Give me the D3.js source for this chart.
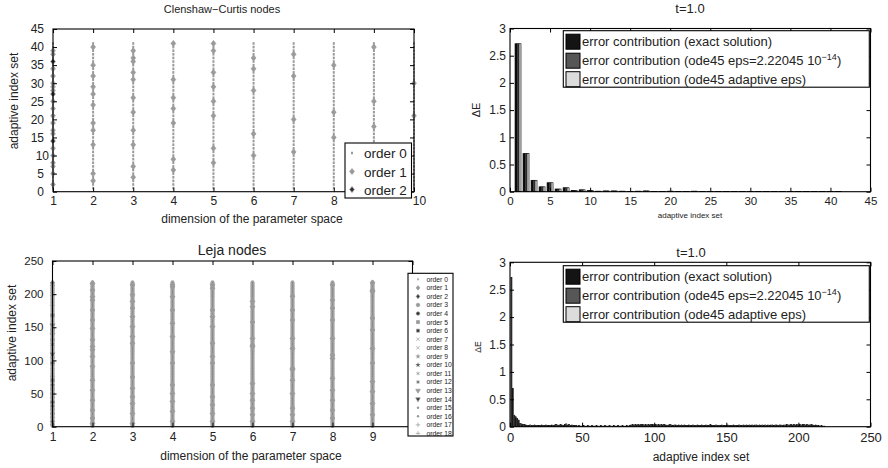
<!DOCTYPE html>
<html><head><meta charset="utf-8">
<script src="https://cdn.jsdelivr.net/npm/d3@7"></script>
<style>
body{margin:0;background:#fff}
svg{display:block}
text{font-family:"Liberation Sans",Arial,Helvetica,sans-serif;fill:#222}
</style>
</head><body>
<svg id="c" width="888" height="468"></svg>
<script>
// ---------------- DATA ----------------
// Clenshaw-Curtis nodes (top left)
const ccDimensions = [1,2,3,4,5,6,7,8,9,10];
const ccIndexCount = 41;
const ccOrder1ByDim = [
  [2,5,7,8,10,12,16,17,19,21,23,25,28,29,30,32,34,38,39],
  [3,5,13,17,19,24,27,29,32,35,40],
  [4,7,13,17,22,26,31,33,36,37,39],
  [6,9,19,23,26,31,41],
  [8,12,21,25,29,33,39,41],
  [10,16,28,34,37],
  [11,20,32,38],
  [15,22,35],
  [18,25,40],
  [21,30]
];
const ccOrder2ByDim = [[14,27,36],[],[],[],[],[],[],[],[],[]];
const ccLegendLabels = ["order 0","order 1","order 2"];

// Leja nodes (bottom left)
const lejaDimensions = [1,2,3,4,5,6,7,8,9];
const lejaIndexCount = 218;
const lejaDim1Idx   = [3,8,14,20,26,31,37,44,50,57,63,70,76,83,90,96,103,110,117,124,131,139,146,153,160,168,175,183,190,198,205,212,217];
const lejaDim1Order = [1,2,1,3,1,2,4,1,3,5,2,6,1,7,8,4,9,10,11,12,3,13,5,14,15,6,16,17,7,18,8,9,2];
const lejaOrder1ByDim = [
  [],
  [216,206,196,191,176,161,148,131,121,116,106,91,70,55,40,25,13,5],
  [214,199,189,179,166,151,136,126,96,75,58,45,35,20,5],
  [214,211,196,176,156,136,113,96,63,50,38,23,8],
  [214,209,176,166,151,126,106,96,63,45,33,20,8],
  [189,181,158,133,123,121,65,50,40,28,18,8],
  [197,176,161,133,118,88,86,70,50,28,18,8],
  [214,191,179,161,133,108,103,73,55,40,25,13],
  [217,206,204,164,146,118,96,68,53,35,18]
];
const lejaLegendLabels = ["order 0","order 1","order 2","order 3","order 4","order 5","order 6","order 7","order 8","order 9","order 10","order 11","order 12","order 13","order 14","order 15","order 16","order 17","order 18"];

// Error contributions, Clenshaw-Curtis (top right)
const ccErrExact = [2.72,0.70,0.21,0.09,0.165,0.05,0.073,0.025,0.035,0.02,0.01,0.015,0.015,0.01,0.005,0.01,0.015,0.005,0.005,0.01,0.003,0.003,0.01,0.004,0.004,0.003,0.003,0.004,0.003,0.003,0.003,0.003,0.004,0.003,0.003,0.003,0.002,0.003,0.003,0.002,0.002];
const ccErrOde45 = [2.72,0.70,0.21,0.09,0.165,0.05,0.073,0.025,0.035,0.02,0.01,0.015,0.015,0.01,0.005,0.01,0.015,0.005,0.005,0.01,0.003,0.003,0.01,0.004,0.004,0.003,0.003,0.004,0.003,0.003,0.003,0.003,0.004,0.003,0.003,0.003,0.002,0.003,0.003,0.002,0.002];
const ccErrAdaptive = [2.72,0.70,0.21,0.09,0.165,0.05,0.073,0.025,0.035,0.02,0.01,0.015,0.015,0.01,0.005,0.01,0.015,0.005,0.005,0.01,0.003,0.003,0.01,0.004,0.004,0.003,0.003,0.004,0.003,0.003,0.003,0.003,0.004,0.003,0.003,0.003,0.002,0.003,0.003,0.002,0.002];

// Error contributions, Leja (bottom right) -- the three series coincide at this resolution
const lejaErrExact = [
 2.72,0.70,0.21,0.18,0.15,0.12,0.06,0.05,0.04,0.04,
 0.03,0.02,0.02,0.03,0.02,0.02,0.03,0.02,0.02,0.02,
 0.02,0.03,0.02,0.02,0.03,0.02,0.02,0.02,0.03,0.02,
 0.03,0.04,0.03,0.02,0.04,0.03,0.02,0.04,0.05,0.03,
 0.04,0.02,0.03,0.02,0.02,0.02,0.01,0.02,0.01,0.01,
 0.02,0.01,0.01,0.02,0.01,0.01,0.02,0.01,0.01,0.02,
 0.01,0.01,0.02,0.01,0.01,0.02,0.01,0.01,0.02,0.01,
 0.01,0.02,0.01,0.01,0.02,0.01,0.01,0.02,0.01,0.01,
 0.02,0.01,0.02,0.03,0.04,0.03,0.04,0.03,0.04,0.03,
 0.04,0.04,0.03,0.04,0.03,0.04,0.03,0.04,0.04,0.03,
 0.04,0.03,0.04,0.03,0.04,0.03,0.04,0.03,0.02,0.03,
 0.04,0.03,0.02,0.03,0.03,0.02,0.03,0.02,0.03,0.02,
 0.03,0.02,0.02,0.03,0.02,0.02,0.03,0.02,0.02,0.03,
 0.02,0.02,0.03,0.02,0.02,0.03,0.02,0.02,0.04,0.02,
 0.02,0.02,0.03,0.02,0.02,0.02,0.03,0.02,0.02,0.02,
 0.03,0.02,0.02,0.02,0.03,0.02,0.02,0.02,0.03,0.02,
 0.02,0.03,0.02,0.03,0.02,0.03,0.02,0.03,0.02,0.03,
 0.03,0.02,0.03,0.02,0.03,0.02,0.03,0.02,0.03,0.02,
 0.03,0.03,0.02,0.03,0.03,0.02,0.03,0.03,0.02,0.03,
 0.03,0.04,0.03,0.03,0.04,0.03,0.04,0.03,0.04,0.03,
 0.04,0.03,0.04,0.04,0.03,0.04,0.03,0.03,0.04,0.03,
 0.02,0.03,0.02,0.02,0.01,0.02,0.01,0.01
];
const lejaErrOde45 = lejaErrExact;
const lejaErrAdaptive = lejaErrExact;

const errLegendLabels = ["error contribution (exact solution)","error contribution (ode45 eps=2.22045 10","error contribution (ode45 adaptive eps)"];
const errColors = ["#141414","#565656","#dcdcdc"];

const ccXTicks = [1,2,3,4,5,6,7,8,9,10];
const ccXTickLabels = ["1","2","3","4","5","6","7","8","","10"];   // "9" hidden by legend
const ccYTicks = [0,5,10,15,20,25,30,35,40,45];
const lejaXTicks = [1,2,3,4,5,6,7,8,9,10];
const lejaXTickLabels = ["1","2","3","4","5","6","7","8","9",""]; // "10" hidden by legend
const lejaYTicks = [0,50,100,150,200,250];
const errYTicks = [0,0.5,1,1.5,2,2.5,3];
const ccErrXTicks = [0,5,10,15,20,25,30,35,40,45];
const lejaErrXTicks = [0,50,100,150,200,250];

// ---------------- DRAWING ----------------
const svg = d3.select("#c");
const GRAY = "#9a9a9a";
const DARK = "#333";

function markerSpec(order, s, dark){
  s = s || 1;
  dark = dark || DARK;
  const col = (order % 2 === 1 || order === 0) ? GRAY : dark;
  const sym = (type, size) => d3.symbol(type, size*s*s)();
  switch(order){
    case 0: return {d:`M${-1*s},${-1.3*s}h${2*s}v${2.6*s}h${-2*s}z`, fill:GRAY, stroke:"none"};
    case 1: case 2: return {d:`M0,${-3*s}L${2.4*s},0L0,${3*s}L${-2.4*s},0Z`, fill:col, stroke:GRAY};
    case 3: case 4: return {d:sym(d3.symbolCircle,18), fill:col, stroke:GRAY};
    case 5: case 6: return {d:sym(d3.symbolSquare,16), fill:col, stroke:GRAY};
    case 7: case 8: return {d:sym(d3.symbolTimes,16), fill:"none", stroke:GRAY};
    case 9: case 10: return {d:sym(d3.symbolStar,16), fill:col==GRAY?GRAY:"#666", stroke:"none"};
    case 11: case 12: return {d:sym(d3.symbolAsterisk,16), fill:"none", stroke:col==GRAY?GRAY:"#555"};
    case 13: case 14: return {d:sym(d3.symbolTriangle,16), fill:col, stroke:GRAY, rot:180};
    case 15: case 16: return {d:sym(d3.symbolCircle,8), fill:GRAY, stroke:"none"};
    default: return {d:sym(d3.symbolPlus,14), fill:"none", stroke:GRAY};
  }
}
function drawMarker(g, x, y, order, s, dark){
  const m = markerSpec(order, s, dark);
  g.append("path").attr("d", m.d)
    .attr("transform", `translate(${x},${y})` + (m.rot ? ` rotate(${m.rot})` : ""))
    .attr("fill", m.fill).attr("stroke", m.stroke)
    .attr("stroke-width", m.stroke === "none" ? 0 : 0.7);
}

function frame(g, x, y, xt, yt, o){
  const [x0,x1] = x.range(), [y0,y1] = y.range();
  const fmt = o.fmt || (d => d3.format("")(d));
  const xfmt = o.xlabels ? ((d,i) => o.xlabels[i]) : fmt;
  const bottom = g.append("g").attr("transform",`translate(0,${y0})`)
    .call(d3.axisBottom(x).tickValues(xt).tickSizeInner(-4).tickSizeOuter(0).tickPadding(o.xpad).tickFormat(xfmt));
  bottom.attr("font-size", o.xfs).attr("font-family", null);
  const top = g.append("g").attr("transform",`translate(0,${y1})`)
    .call(d3.axisTop(x).tickValues(xt).tickSizeInner(-4).tickSizeOuter(0).tickFormat(""));
  const left = g.append("g").attr("transform",`translate(${x0},0)`)
    .call(d3.axisLeft(y).tickValues(yt).tickSizeInner(-4).tickSizeOuter(0).tickPadding(o.ypad).tickFormat(fmt));
  left.attr("font-size", o.yfs).attr("font-family", null);
  const right = g.append("g").attr("transform",`translate(${x1},0)`)
    .call(d3.axisRight(y).tickValues(yt).tickSizeInner(-4).tickSizeOuter(0).tickFormat(""));
  [bottom, top, left, right].forEach(a => a.select(".domain").remove());
  [top, right].forEach(a => a.selectAll("text").remove());
  bottom.selectAll("text").filter(function(){ return this.textContent === ""; }).remove();
  g.append("rect").attr("x", x0).attr("y", y1).attr("width", x1-x0).attr("height", y0-y1)
    .attr("fill","none").attr("stroke","#000").attr("stroke-width",1.1);
}

function text(g, str, x, y, size, opts){
  opts = opts || {};
  const t = g.append("text").attr("x", x).attr("y", y).attr("font-size", size)
    .attr("text-anchor", opts.anchor || "middle").text(str);
  if (opts.rotate) t.attr("transform", `rotate(-90,${x},${y})`);
  return t;
}

// ---------- Panel 1: Clenshaw-Curtis nodes ----------
{
  const g = svg.append("g");
  const x = d3.scaleLinear().domain([1,10]).range([53,414]);
  const y = d3.scaleLinear().domain([0,45]).range([191.7,29]);
  const idx = d3.range(1, ccIndexCount+1);
  ccDimensions.forEach((dim, k) => {
    idx.forEach(i => drawMarker(g, x(dim), y(i), 0));
    ccOrder1ByDim[k].forEach(i => drawMarker(g, x(dim), y(i), 1, 1));
    ccOrder2ByDim[k].forEach(i => drawMarker(g, x(dim), y(i), 2, 1));
  });
  frame(g, x, y, ccXTicks, ccYTicks, {xpad:5, ypad:9, xfs:12, yfs:12, xlabels:ccXTickLabels});
  g.selectAll(".tick text").filter(function(){ return this.textContent === "10"; }).attr("dx", 5);
  text(g, "Clenshaw\u2212Curtis nodes", 222, 13, 11);
  text(g, "dimension of the parameter space", 252, 223, 12);
  text(g, "adaptive index set", 18, 101, 12, {rotate:true});
  // legend
  const lg = g.append("g");
  lg.append("rect").attr("x",345).attr("y",143).attr("width",66.5).attr("height",55)
    .attr("fill","#fff").attr("stroke","#000").attr("stroke-width",1.1);
  ccLegendLabels.forEach((lab, i) => {
    const yy = [153,171.5,189.5][i];
    drawMarker(lg, 352, yy, i, 1);
    text(lg, lab, 364, yy+5, 13.5, {anchor:"start"});
  });
}

// ---------- Panel 2: Leja nodes ----------
{
  const g = svg.append("g");
  const x = d3.scaleLinear().domain([1,10]).range([52.5,412.5]);
  const y = d3.scaleLinear().domain([0,250]).range([426.7,261]);
  const idx = d3.range(1, lejaIndexCount+1);
  lejaDimensions.forEach((dim, k) => {
    idx.forEach(i => g.append("circle").attr("cx", x(dim)).attr("cy", y(i)).attr("r", 1.9).attr("fill", "#a4a4a4"));
    idx.forEach(i => g.append("rect").attr("x", x(dim)-0.5).attr("y", y(i)-0.5).attr("width",1).attr("height",1).attr("fill","#8a8a8a"));
    lejaOrder1ByDim[k].forEach(i => drawMarker(g, x(dim), y(i), 1, 1));
  });
  lejaDim1Idx.forEach((i, j) => drawMarker(g, x(1), y(i), lejaDim1Order[j], 0.85, "#6a6a6a"));
  frame(g, x, y, lejaXTicks, lejaYTicks, {xpad:6, ypad:9, xfs:12, yfs:11.5, xlabels:lejaXTickLabels});
  text(g, "Leja nodes", 232, 255, 14);
  text(g, "dimension of the parameter space", 251, 460, 12);
  text(g, "adaptive index set", 16, 333, 12, {rotate:true});
  const lg = g.append("g");
  lg.append("rect").attr("x",408).attr("y",273.3).attr("width",45).attr("height",162.7)
    .attr("fill","#fff").attr("stroke","#000").attr("stroke-width",1.1);
  lejaLegendLabels.forEach((lab, i) => {
    const yy = 279.3 + i*8.56;
    drawMarker(lg, 418, yy, i, 0.75);
    text(lg, lab, 426.5, yy+2.4, 6.8, {anchor:"start"});
  });
}

// ---------- Error bar panels ----------
function errPanel(series, xDomain, xRange, yRange, xt, o){
  const g = svg.append("g");
  const x = d3.scaleLinear().domain(xDomain).range(xRange);
  const y = d3.scaleLinear().domain([0,3]).range(yRange);
  const step = x(1) - x(0);
  const inner = d3.scaleBand().domain(d3.range(series.length)).range([-step*o.band/2, step*o.band/2]);
  series.forEach((vals, s) => {
    g.append("g").selectAll("rect").data(vals).join("rect")
      .attr("x", (d,i) => x(i+1) + inner(s))
      .attr("width", inner.bandwidth())
      .attr("y", d => y(d))
      .attr("height", d => y(0) - y(d))
      .attr("fill", errColors[s])
      .attr("stroke", "#000").attr("stroke-width", o.sw);
  });
  frame(g, x, y, xt, errYTicks, {xpad:o.xpad, ypad:4, xfs:o.xfs, yfs:12, fmt:d3.format("")});
  // legend
  const T = o.legTop;
  const lg = g.append("g");
  lg.append("rect").attr("x",563.3).attr("y",T).attr("width",306).attr("height",56.5)
    .attr("fill","#fff").attr("stroke","#000").attr("stroke-width",1.1);
  errLegendLabels.forEach((lab, i) => {
    const yy = T + [11, 30, 48.5][i];
    lg.append("rect").attr("x",566).attr("y",yy-7.5).attr("width",14).attr("height",15)
      .attr("fill", errColors[i]).attr("stroke","#000").attr("stroke-width",1);
    const t = text(lg, lab, 582, yy+4.5, 13, {anchor:"start"});
    if (i === 1){
      t.append("tspan").attr("dy",-5).attr("font-size",9).text("\u221214");
      t.append("tspan").attr("dy",5).text(")");
    }
  });
  return g;
}

{
  const g = errPanel([ccErrExact, ccErrOde45, ccErrAdaptive], [0,45], [510,870.5], [191.7,28.5], ccErrXTicks,
    {band:0.75, sw:0.6, xpad:5, xfs:11.5, legTop:30.7});
  text(g, "t=1.0", 690, 13, 13);
  text(g, "adaptive index set", 690, 218, 8);
  text(g, "\u0394E", 480, 110, 11, {rotate:true});
}
{
  const g = errPanel([lejaErrExact, lejaErrOde45, lejaErrAdaptive], [0,250], [510,870.5], [426.7,262.3], lejaErrXTicks,
    {band:0.8, sw:0.5, xpad:6, xfs:13, legTop:265.7});
  text(g, "t=1.0", 691, 257, 13);
  text(g, "adaptive index set", 701, 461, 12);
  text(g, "\u0394E", 481, 347, 8.5, {rotate:true});
}
</script>
</body></html>
